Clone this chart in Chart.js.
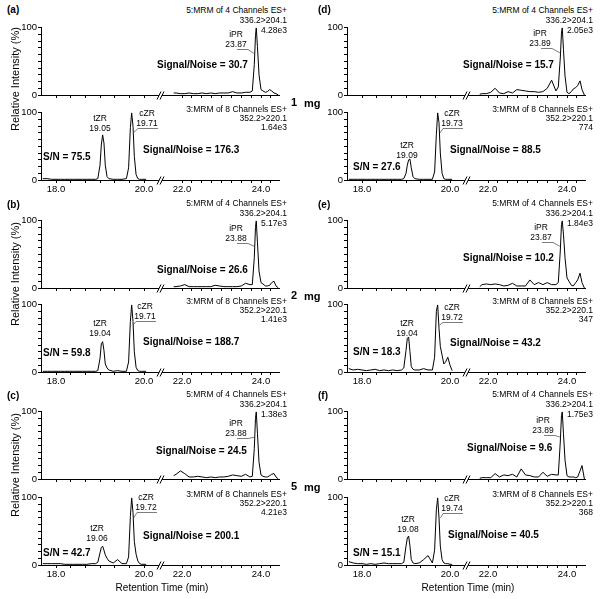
<!DOCTYPE html>
<html><head><meta charset="utf-8">
<script src="https://cdn.jsdelivr.net/npm/chart.js@4.4.1/dist/chart.umd.min.js"></script>
<style>
html,body{margin:0;padding:0;background:#fff;}
#wrap{position:relative;width:600px;height:599px;overflow:hidden;background:#fff;font-family:"Liberation Sans",Arial,sans-serif;color:#000;}
canvas{position:absolute;}
.t{position:absolute;white-space:nowrap;line-height:1;}
</style></head><body><div id="wrap"></div>
<script>
// ================= DATA =================
// iPR trace (MRM 336.2>204.1), retention time window after the axis break
const timesIPR = [21.79, 21.85, 21.96, 22.07, 22.18, 22.29, 22.40, 22.51, 22.62, 22.73, 22.84, 22.95, 23.06, 23.17, 23.28, 23.39, 23.50, 23.61, 23.72,
                  23.78, 23.83, 23.86, 23.88, 23.91, 23.95, 24.0,
                  24.05, 24.11, 24.16, 24.22, 24.27, 24.33, 24.38, 24.44];
const iprA = [3, 3, 2, 2, 3, 2, 2, 3, 2, 3, 2, 3, 3, 3, 5, 3, 3, 4, 4,  6, 45, 88, 100, 72, 30, 8,  6, 4, 5, 8, 6, 3, 2, 0];
const iprB = [2, 2, 3, 5, 2, 2, 2, 2, 2, 2, 4, 3, 2, 2, 2, 2, 3, 7, 5,  5, 45, 90, 100, 68, 25, 8,  6, 3, 3, 4, 8, 10, 3, 0];
const iprC = [5, 7, 12, 8, 3, 3, 4, 3, 2, 3, 2, 3, 3, 4, 6, 5, 4, 7, 3,  4, 45, 90, 100, 68, 25, 6,  4, 3, 3, 5, 7, 8, 3, 0];
const iprD = [1, 2, 2, 4, 10, 3, 2, 5, 3, 8, 7, 6, 5, 5, 4, 5, 10, 22, 6,  12, 55, 92, 100, 68, 28, 4,  2, 5, 9, 11, 14, 21, 8, 0];
const iprE = [2, 5, 6, 5, 6, 5, 3, 4, 7, 3, 3, 3, 12, 5, 8, 5, 8, 5, 5,  8, 55, 94, 100, 80, 45, 15,  10, 4, 3, 8, 12, 22, 8, 0];
const iprF = [1, 2, 2, 2, 8, 3, 6, 5, 7, 3, 15, 6, 5, 3, 3, 10, 4, 7, 6,  6, 55, 94, 100, 68, 28, 5,  3, 3, 3, 2, 3, 12, 20, 0];

// tZR / cZR trace (MRM 352.2>220.1), window before the axis break
const timesZR = [17.7, 17.8, 17.9, 18.0, 18.1, 18.2, 18.3, 18.4, 18.5, 18.6, 18.7, 18.8, 18.9,
                 18.95, 19.0, 19.03, 19.06, 19.09, 19.12, 19.16, 19.2,
                 19.3, 19.4, 19.5, 19.6,
                 19.65, 19.69, 19.72, 19.75, 19.78, 19.82, 19.86, 19.9,
                 19.95, 20.0, 20.05];
const zrA = [2, 2, 1, 1, 1, 1, 1, 1, 1, 1, 1, 1, 1,  2, 22, 52, 67, 55, 22, 5, 2,  1, 1, 1, 2,  18, 78, 100, 80, 35, 8, 2, 1,  1, 1, 1];
const zrB = [1, 1, 1, 1, 1, 1, 1, 1, 1, 1, 1, 1, 1,  2, 20, 42, 45, 32, 12, 6, 3,  1, 2, 1, 1,  15, 75, 100, 75, 30, 7, 2, 1,  1, 1, 1];
const zrC = [2, 2, 2, 2, 2, 1, 1, 1, 1, 1, 1, 2, 2,  4, 18, 26, 28, 22, 15, 10, 6,  3, 8, 2, 2,  12, 72, 100, 78, 35, 16, 6, 2,  1, 1, 1];
const zrD = [1, 1, 1, 1, 1, 1, 1, 1, 1, 1, 1, 1, 1,  2, 10, 22, 30, 31, 18, 5, 2,  1, 1, 1, 1,  12, 68, 100, 85, 40, 10, 2, 1,  1, 1, 1];
const zrE = [5, 3, 4, 3, 2, 3, 4, 2, 3, 2, 3, 2, 3,  6, 32, 50, 52, 30, 8, 4, 3,  3, 5, 3, 3,  22, 90, 100, 65, 38, 25, 12, 15,  22, 10, 2];
const zrF = [5, 3, 2, 2, 1, 2, 1, 2, 3, 2, 2, 2, 2,  4, 28, 40, 43, 28, 8, 3, 2,  3, 8, 14, 3,  22, 82, 100, 70, 28, 8, 3, 2,  2, 1, 1];

// axis ticks (minutes) and labels
const xTicksLeft = [18.0, 18.333, 18.667, 19.0, 19.333, 19.667, 20.0];
const xTicksRight = [22.0, 22.25, 22.5, 22.75, 23.0, 23.25, 23.5, 23.75, 24.0, 24.25];
const xTickLabels = ['18.0', '20.0', '22.0', '24.0'];
const yTickLabels = [0, 100];

// texts
const panelLetters = ['(a)', '(b)', '(c)', '(d)', '(e)', '(f)'];
const doseLabels = ['1', '2', '5'];
const iprHeader = ['5:MRM of 4 Channels ES+', '336.2>204.1'];
const zrHeader = ['3:MRM of 8 Channels ES+', '352.2>220.1'];
const iprScale = ['4.28e3', '5.17e3', '1.38e3', '2.05e3', '1.84e3', '1.75e3'];
const zrScale = ['1.64e3', '1.41e3', '4.21e3', '774', '347', '368'];
const iprRT = ['23.87', '23.88', '23.88', '23.89', '23.87', '23.89'];
const tzrRT = ['19.05', '19.04', '19.06', '19.09', '19.04', '19.08'];
const czrRT = ['19.71', '19.71', '19.72', '19.73', '19.72', '19.74'];
const iprSN = ['30.7', '26.6', '24.5', '15.7', '10.2', '9.6'];
const czrSN = ['176.3', '188.7', '200.1', '88.5', '43.2', '40.5'];
const tzrSN = ['75.5', '59.8', '42.7', '27.6', '18.3', '15.1'];

// ================= LAYOUT =================
const COL_X = [0, 306];
const ROW_TOP = [[27, 112], [220, 304], [411, 497]];
const PH = 68, PAD_T = 6, XAX_H = 16, CW = 290, YAX_W = 41, PAD_R = 11;
const SEG = { lt0: 18, lv0: 15, lk: 44, rt0: 22, rv0: 141, rk: 39.5, brk: 120, vmax: 238 };
function toV(t) { return t < 21 ? SEG.lv0 + (t - SEG.lt0) * SEG.lk : SEG.rv0 + (t - SEG.rt0) * SEG.rk; }

// label positions (column-relative x, offset from plot top)
const iprLabelPos = [[236, 7], [236, 8], [236, 12], [234, 6], [235, 7], [237, 9]];
const iprSNPos = [[157, 38], [157, 50], [156, 40], [157, 38], [157, 38], [161, 37]];
const tzrLabelPos = [[100, 6], [100, 19], [97, 31], [101, 33], [101, 19], [102, 22]];
const czrLabelPos = [[147, 1], [145, 2], [146, 0], [146, 1], [146, 3], [146, 1]];
const czrSNPos = [[143, 38], [143, 38], [143, 39], [144, 38], [144, 39], [142, 38]];
const tzrSNPos = [[43, 45], [43, 49], [43, 56], [47, 55], [47, 48], [47, 56]];
const letterPos = [[7, 10], [7, 205], [7, 396], [318, 10], [318, 205], [318, 396]];
const dosePosY = [102, 295, 486];
const yTitleY = [79, 274, 465];
const FONT = '"Liberation Sans", Arial, sans-serif';

const wrap = document.getElementById('wrap');
function addText(x, y, s, o) {
  o = o || {};
  const d = document.createElement('div');
  d.className = 't'; d.textContent = s;
  d.style.left = x + 'px'; d.style.top = y + 'px';
  d.style.fontSize = (o.size || 8.5) + 'px';
  if (o.bold) d.style.fontWeight = 'bold';
  const tx = o.align === 'right' ? '-100%' : (o.align === 'center' ? '-50%' : '0');
  d.style.transform = 'translate(' + tx + ',-50%)' + (o.rot ? ' rotate(-90deg)' : '');
  wrap.appendChild(d);
}

const xTickTimes = xTicksLeft.concat(xTicksRight);
const xTickText = xTickTimes.map(t => {
  const s = t.toFixed(1);
  return (Math.abs(t - Math.round(t)) < 1e-6 && xTickLabels.indexOf(s) >= 0) ? s : '';
});

const decoPlugin = {
  id: 'deco',
  afterDraw(chart, args, opts) {
    const ctx = chart.ctx, xs = chart.scales.x, ys = chart.scales.y, ca = chart.chartArea;
    const bx = xs.getPixelForValue(SEG.brk), by = ca.bottom + 0.5;
    ctx.save();
    ctx.fillStyle = '#fff';
    ctx.beginPath(); ctx.moveTo(bx - 4, by + 4); ctx.lineTo(bx, by - 4); ctx.lineTo(bx + 3, by - 4); ctx.lineTo(bx - 1, by + 4); ctx.closePath(); ctx.fill();
    ctx.strokeStyle = '#000'; ctx.lineWidth = 1;
    ctx.beginPath();
    ctx.moveTo(bx - 4, by + 4); ctx.lineTo(bx, by - 4);
    ctx.moveTo(bx - 1, by + 4); ctx.lineTo(bx + 3, by - 4);
    ctx.stroke();
    ctx.strokeStyle = '#444'; ctx.lineWidth = 0.7;
    (opts.leaders || []).forEach(L => {
      const px = xs.getPixelForValue(toV(L.t)) + L.dx;
      const py = ys.getPixelForValue(L.v);
      ctx.beginPath(); ctx.moveTo(px, py);
      L.pts.forEach(p => ctx.lineTo(p[0], p[1] + PAD_T));
      ctx.stroke();
    });
    ctx.restore();
  }
};

function makeChart(x0, T, times, vals, showX, leaders) {
  const cv = document.createElement('canvas');
  const h = PAD_T + PH + XAX_H;
  cv.width = CW; cv.height = h;
  cv.style.left = x0 + 'px'; cv.style.top = (T - PAD_T) + 'px';
  cv.style.width = CW + 'px'; cv.style.height = h + 'px';
  wrap.appendChild(cv);
  new Chart(cv, {
    type: 'line',
    data: { datasets: [{ data: times.map((t, i) => ({ x: toV(t), y: vals[i] })), borderColor: '#000', borderWidth: 1, pointRadius: 0, tension: 0, fill: false }] },
    options: {
      responsive: false, animation: false, devicePixelRatio: 1,
      layout: { padding: { left: 0, right: PAD_R, top: PAD_T, bottom: 0 } },
      plugins: { legend: { display: false }, tooltip: { enabled: false }, deco: { leaders: leaders } },
      scales: {
        x: {
          type: 'linear', min: 0, max: SEG.vmax,
          afterBuildTicks: s => { s.ticks = xTickTimes.map(t => ({ value: toV(t) })); },
          afterFit: s => { s.height = XAX_H; },
          ticks: { autoSkip: false, maxRotation: 0, minRotation: 0, padding: 1, color: '#000', font: { family: FONT, size: 9.5 },
            callback: (v, i) => showX ? xTickText[i] : '' },
          grid: { display: true, drawOnChartArea: false, drawTicks: true, tickLength: 3, color: '#000', lineWidth: 1 },
          border: { display: true, color: '#000', width: 1 }
        },
        y: {
          min: 0, max: 100,
          afterFit: s => { s.width = YAX_W; },
          ticks: { stepSize: 10, autoSkip: false, padding: 1, color: '#000', font: { family: FONT, size: 9.5 },
            callback: v => yTickLabels.indexOf(v) >= 0 ? String(v) : '' },
          grid: { display: true, drawOnChartArea: false, drawTicks: true, tickLength: 3, color: '#000', lineWidth: 1 },
          border: { display: true, color: '#000', width: 1 }
        }
      }
    },
    plugins: [decoPlugin]
  });
}

const iprVals = [iprA, iprB, iprC, iprD, iprE, iprF];
const zrVals = [zrA, zrB, zrC, zrD, zrE, zrF];

for (let i = 0; i < 6; i++) {
  const col = Math.floor(i / 3), row = i % 3;
  const x0 = COL_X[col];
  const Tt = ROW_TOP[row][0], Tb = ROW_TOP[row][1];
  const il = iprLabelPos[i], cl = czrLabelPos[i];
  makeChart(x0, Tt, timesIPR, iprVals[i], false, [
    { t: parseFloat(iprRT[i]), v: 62, dx: -2, pts: [[il[0] + 12, il[1] + 15.5], [il[0] + 1, il[1] + 15.5]] }
  ]);
  makeChart(x0, Tb, timesZR, zrVals[i], true, [
    { t: parseFloat(czrRT[i]), v: 70, dx: 2, pts: [[cl[0] - 9, cl[1] + 15.5], [cl[0] + 11, cl[1] + 15.5]] }
  ]);

  addText(x0 + 287, Tt - 17, iprHeader[0], { align: 'right' });
  addText(x0 + 287, Tt - 7, iprHeader[1], { align: 'right' });
  addText(x0 + 287, Tt + 3, iprScale[i], { align: 'right' });
  addText(x0 + 287, Tb - 3, zrHeader[0], { align: 'right' });
  addText(x0 + 287, Tb + 6, zrHeader[1], { align: 'right' });
  addText(x0 + 287, Tb + 15, zrScale[i], { align: 'right' });
  addText(x0 + il[0], Tt + il[1], 'iPR', { align: 'center' });
  addText(x0 + il[0], Tt + il[1] + 10, iprRT[i], { align: 'center' });
  const tl = tzrLabelPos[i];
  addText(x0 + tl[0], Tb + tl[1], 'tZR', { align: 'center' });
  addText(x0 + tl[0], Tb + tl[1] + 10, tzrRT[i], { align: 'center' });
  addText(x0 + cl[0], Tb + cl[1], 'cZR', { align: 'center' });
  addText(x0 + cl[0], Tb + cl[1] + 10, czrRT[i], { align: 'center' });
  addText(x0 + iprSNPos[i][0], Tt + iprSNPos[i][1], 'Signal/Noise = ' + iprSN[i], { bold: true, size: 10 });
  addText(x0 + czrSNPos[i][0], Tb + czrSNPos[i][1], 'Signal/Noise = ' + czrSN[i], { bold: true, size: 10 });
  addText(x0 + tzrSNPos[i][0], Tb + tzrSNPos[i][1], 'S/N = ' + tzrSN[i], { bold: true, size: 10 });
  addText(letterPos[i][0], letterPos[i][1], panelLetters[i], { bold: true, size: 10 });
}
for (let r = 0; r < 3; r++) {
  addText(291, dosePosY[r], doseLabels[r], { bold: true, size: 11 });
  addText(304, dosePosY[r] + 1, 'mg', { bold: true, size: 11 });
  addText(15, yTitleY[r], 'Relative Intensity (%)', { align: 'center', size: 11, rot: true });
}
addText(162, 588, 'Retention Time (min)', { align: 'center', size: 10 });
addText(468, 588, 'Retention Time (min)', { align: 'center', size: 10 });
</script>
</body></html>
